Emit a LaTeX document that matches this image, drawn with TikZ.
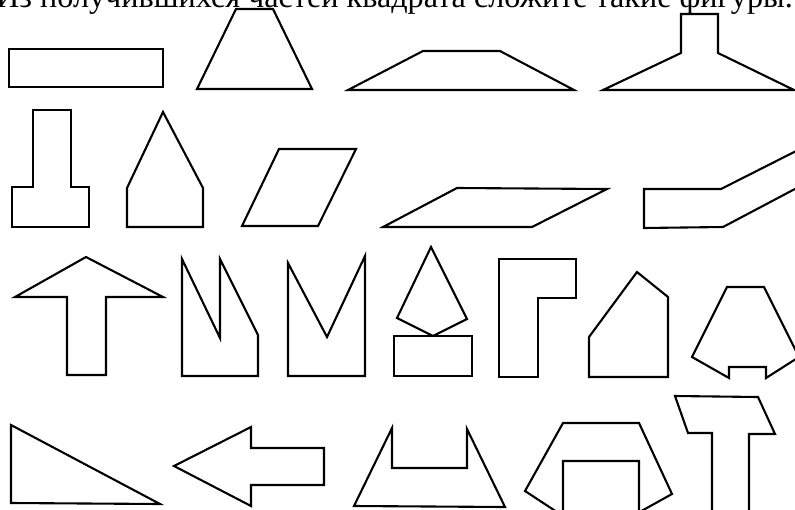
\documentclass[tikz,border=0pt]{standalone}
\usepackage{fontspec}
\setmainfont{Liberation Serif}
\tikzset{
  piece/.style   = {draw=black, line width=2.1pt, line join=miter},
  heading/.style = {font=\fontsize{32.2}{32}\selectfont, inner sep=0pt},
}

\begin{document}
\begin{tikzpicture}[x=1pt,y=-1pt]
  \useasboundingbox (0,0) rectangle (795,509);
  \node[heading,anchor=base east] (title) at (793,7)
    {Из получившихся частей квадрата сложите такие фигуры.};

  % row 1
  \draw[piece] (9,49) rectangle (163,87);
  \draw[piece] (236,9) -- (273,9) -- (312,89) -- (197,89) -- cycle;
  \draw[piece] (423,51) -- (500,51) -- (574,90) -- (348,90) -- cycle;
  \draw[piece] (681,14) -- (718,14) -- (718,53) -- (794,90) -- (603,90) -- (681,53) -- cycle;

  % row 2
  \draw[piece] (33,110) -- (71,110) -- (71,187) -- (89,187) -- (89,227) -- (12,227) -- (12,187) -- (33,187) -- cycle;
  \draw[piece] (163,112) -- (203,188) -- (203,227) -- (127,227) -- (127,188) -- cycle;
  \draw[piece] (279,149) -- (356,149) -- (318,226) -- (242,226) -- cycle;
  \draw[piece] (457,188) -- (607,189) -- (532,227) -- (383,227) -- cycle;
  \draw[piece] (644,189) -- (721,189) -- (810,144) -- (810,181) -- (723,227) -- (644,228) -- cycle;

  % row 3
  \draw[piece] (86,257) -- (163,297) -- (106,297) -- (106,375) -- (67,375) -- (67,297) -- (15,297) -- cycle;
  \draw[piece] (182,259) -- (220,338) -- (220,259) -- (258,335) -- (258,376) -- (182,376) -- cycle;
  \draw[piece] (288,263) -- (327,337) -- (365,256) -- (365,376) -- (288,376) -- cycle;
  \draw[piece] (431,247) -- (467,319) -- (433,336) -- (397,318) -- cycle;
  \draw[piece] (394,336) rectangle (472,376);
  \draw[piece] (499,259) -- (576,259) -- (576,298) -- (538,298) -- (538,377) -- (499,377) -- cycle;
  \draw[piece] (637,272) -- (668,297) -- (668,377) -- (589,377) -- (589,337) -- cycle;
  \draw[piece] (727,287) -- (764,287) -- (799,357) -- (766,378) -- (766,367) -- (729,367) -- (729,378) -- (692,357) -- cycle;

  % row 4
  \draw[piece] (11,425) -- (160,504) -- (11,503) -- cycle;
  \draw[piece] (174,466) -- (251,427) -- (251,448) -- (324,448) -- (324,485) -- (251,485) -- (251,506) -- cycle;
  \draw[piece] (392,428) -- (392,468) -- (467,468) -- (467,429) -- (505,507) -- (354,506) -- cycle;
  \draw[piece] (563,423) -- (639,423) -- (672,494) -- (636,514) -- (639,514) -- (639,461) -- (563,461) -- (563,514) -- (560,514) -- (525,491) -- cycle;
  \draw[piece] (675,396) -- (758,397) -- (775,434) -- (749,434) -- (749,516) -- (712,516) -- (712,433) -- (688,433) -- cycle;
\end{tikzpicture}
\end{document}
